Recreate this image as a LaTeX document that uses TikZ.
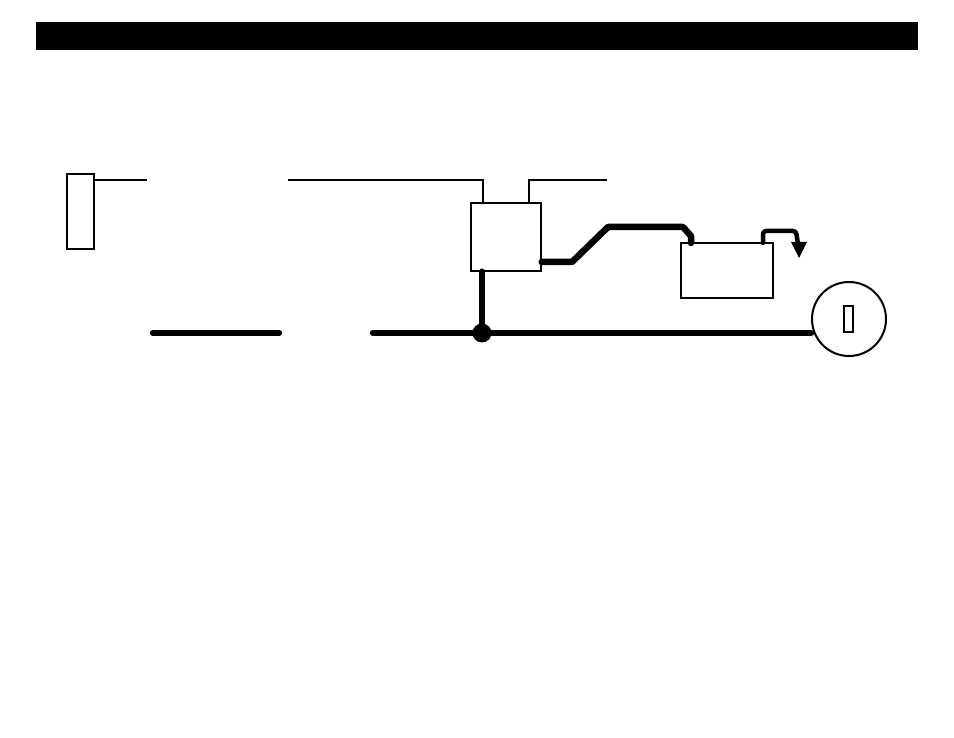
\documentclass[tikz,border=0pt]{standalone}
\usetikzlibrary{arrows.meta}
\tikzset{
  thinwire/.style = {line width = 2pt},
  thickwire/.style = {line width = 6.5pt, line cap = round, line join = round},
  unit/.style = {draw, line width = 1.4pt, fill = white}
}
\begin{document}
\begin{tikzpicture}[x = 1pt, y = -1pt]
\useasboundingbox (0,0) rectangle (954,738);
% heading bar
\fill[black] (36,22) rectangle (918,50);
% units
\draw[unit] (67,174) rectangle (94,249);
\node[unit, minimum width = 70pt, minimum height = 68pt, inner sep = 0pt] (relay) at (506,237) {};
\node[unit, minimum width = 92pt, minimum height = 55pt, inner sep = 0pt] (batt) at (727,270.5) {};
\node[draw, circle, line width = 2pt, minimum size = 74pt, inner sep = 0pt] (meter) at (849,319) {};
\draw[line width = 1.2pt] (844,306) rectangle (853,332);
% thin wires
\coordinate (r1) at (483,203);
\coordinate (r2) at (529,203);
\draw[thinwire] (94,180) -- (147,180);
\draw[thinwire] (288,180) -- (483,180) -- (r1);
\draw[thinwire] (r2) -- (529,180) -- (607,180);
% thick wires
\coordinate (j) at (482,333);
\draw[thickwire] (relay.east |- 0,262) -- (572,262) -- (608,227) -- (683,227) -- (691,236) -- (691,243);
\draw[thickwire, line width = 4.5pt, rounded corners = 3pt] (763,243) -- (763,231) -- (796,231) -- (798,244);
\fill (791,242) -- (807,242) -- (799,258) -- cycle;
\draw[thickwire] (relay.south -| j) -- (j);
\draw[thickwire] (153,333) -- (279,333);
\draw[thickwire] (373,333) -- (meter.west |- j);
\fill (j) circle (9.5);
\end{tikzpicture}
\end{document}
